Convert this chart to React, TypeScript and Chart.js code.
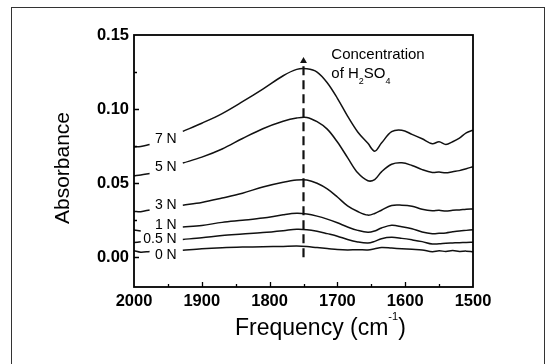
import React, { useEffect, useRef } from 'react';
import { Chart, registerables } from 'chart.js';

Chart.register(...registerables);

const FONT = '"Liberation Sans", Arial, Helvetica, sans-serif';

// Frequency grid (cm^-1); 1955 is the gap where the curve labels sit
const frequencies = [2000, 1990, 1977, 1955, 1928, 1900, 1870, 1840, 1810, 1780, 1760, 1745, 1730, 1715, 1700, 1685, 1670, 1655, 1645, 1635, 1620, 1605, 1590, 1575, 1560, 1550, 1540, 1530, 1520, 1510, 1500];

const abs7N = [0.0745, 0.0748, 0.0762, null, 0.0850, 0.0905, 0.0970, 0.1050, 0.1135, 0.1225, 0.1268, 0.1272, 0.1250, 0.1178, 0.1073, 0.0953, 0.0846, 0.0769, 0.0716, 0.0771, 0.0848, 0.0858, 0.0830, 0.0800, 0.0767, 0.0780, 0.0762, 0.0780, 0.0805, 0.0840, 0.0858];
const abs5N = [0.0550, 0.0556, 0.0566, null, 0.0636, 0.0676, 0.0731, 0.0802, 0.0868, 0.0918, 0.0940, 0.0944, 0.0915, 0.0865, 0.0778, 0.0673, 0.0570, 0.0517, 0.0525, 0.0577, 0.0628, 0.0638, 0.0620, 0.0592, 0.0573, 0.0575, 0.0570, 0.0578, 0.0585, 0.0598, 0.0612];
const abs3N = [0.0310, 0.0308, 0.0320, null, 0.0352, 0.0370, 0.0400, 0.0433, 0.0475, 0.0507, 0.0522, 0.0522, 0.0500, 0.0462, 0.0407, 0.0347, 0.0309, 0.0285, 0.0296, 0.0318, 0.0350, 0.0352, 0.0345, 0.0325, 0.0315, 0.0318, 0.0312, 0.0318, 0.0320, 0.0325, 0.0327];
const abs1N = [0.0185, 0.0178, null, null, 0.0204, 0.0215, 0.0236, 0.0250, 0.0265, 0.0287, 0.0297, 0.0292, 0.0278, 0.0258, 0.0233, 0.0205, 0.0182, 0.0169, 0.0178, 0.0198, 0.0216, 0.0207, 0.0193, 0.0171, 0.0160, 0.0162, 0.0165, 0.0172, 0.0178, 0.0182, 0.0186];
const abs05N = [0.0100, 0.0105, null, null, 0.0121, 0.0132, 0.0147, 0.0157, 0.0167, 0.0180, 0.0190, 0.0187, 0.0176, 0.0160, 0.0143, 0.0120, 0.0104, 0.0097, 0.0108, 0.0126, 0.0135, 0.0128, 0.0118, 0.0106, 0.0090, 0.0092, 0.0095, 0.0097, 0.0099, 0.0100, 0.0102];
const abs0N = [0.0045, 0.0035, 0.0040, null, 0.0048, 0.0058, 0.0065, 0.0069, 0.0071, 0.0074, 0.0076, 0.0073, 0.0066, 0.0060, 0.0053, 0.0050, 0.0052, 0.0050, 0.0058, 0.0067, 0.0063, 0.0058, 0.0054, 0.0050, 0.0038, 0.0044, 0.0040, 0.0046, 0.0040, 0.0042, 0.0038];

const seriesNames = ['7 N', '5 N', '3 N', '1 N', '0.5 N', '0 N'];
const seriesValues = [abs7N, abs5N, abs3N, abs1N, abs05N, abs0N];
// where each curve label sits (absorbance units), right-aligned at labelFreq
const labelValues = [0.0800, 0.0606, 0.0354, 0.0214, 0.0126, 0.0012];
const labelFreq = 1937;

// dashed arrow (peak position)
const arrowFreq = 1750;
const arrowFrom = 0.0;
const arrowTo = 0.1325;

const xMin = 1500;
const xMax = 2000;
const yMin = -0.02;
const yMax = 0.15;

const isMultiple = (v: number, step: number) => Math.abs(v / step - Math.round(v / step)) < 1e-6;

const decorPlugin = {
  id: 'decor',
  afterDatasetsDraw(chart: any) {
    const { ctx, chartArea: a, scales } = chart;
    const x = scales.x;
    const y = scales.y;
    ctx.save();
    // plot box
    ctx.strokeStyle = '#000';
    ctx.lineWidth = 1.8;
    ctx.strokeRect(a.left, a.top, a.right - a.left, a.bottom - a.top);
    // inward ticks
    ctx.lineWidth = 1.3;
    ctx.beginPath();
    y.ticks.forEach((t: any) => {
      if (t.value <= y.min + 1e-9 || t.value >= y.max - 1e-9) return;
      const py = Math.round(y.getPixelForValue(t.value)) + 0.5;
      const len = t.label ? 5 : 3;
      ctx.moveTo(a.left, py);
      ctx.lineTo(a.left + len, py);
    });
    x.ticks.forEach((t: any) => {
      if (t.value <= x.min + 1e-9 || t.value >= x.max - 1e-9) return;
      const px = Math.round(x.getPixelForValue(t.value)) + 0.5;
      const len = t.label ? 5 : 3;
      ctx.moveTo(px, a.bottom);
      ctx.lineTo(px, a.bottom - len);
    });
    ctx.stroke();

    ctx.fillStyle = '#000';
    // curve labels
    ctx.font = `14px ${FONT}`;
    ctx.textAlign = 'right';
    ctx.textBaseline = 'middle';
    seriesNames.forEach((name, i) => {
      ctx.fillText(name, x.getPixelForValue(labelFreq), y.getPixelForValue(labelValues[i]));
    });

    // annotation text
    const ax = x.getPixelForValue(1709);
    const ay = y.getPixelForValue(0.134);
    ctx.textAlign = 'left';
    ctx.textBaseline = 'alphabetic';
    ctx.font = `15px ${FONT}`;
    ctx.fillText('Concentration', ax, ay);
    let cx = ax;
    const line2 = ay + 19;
    const parts: [string, boolean][] = [['of H', false], ['2', true], ['SO', false], ['4', true]];
    parts.forEach(([txt, sub]) => {
      ctx.font = sub ? `9px ${FONT}` : `15px ${FONT}`;
      ctx.fillText(txt, cx, sub ? line2 + 6 : line2);
      cx += ctx.measureText(txt).width;
    });

    // axis titles
    ctx.save();
    ctx.font = `21px ${FONT}`;
    ctx.translate(63, 168);
    ctx.rotate(-Math.PI / 2);
    ctx.textAlign = 'center';
    ctx.textBaseline = 'middle';
    ctx.fillText('Absorbance', 0, 0);
    ctx.restore();

    ctx.textAlign = 'left';
    ctx.textBaseline = 'alphabetic';
    let tx = 235;
    const tb = 335;
    ctx.font = `23px ${FONT}`;
    ctx.fillText('Frequency (cm', tx, tb);
    tx += ctx.measureText('Frequency (cm').width;
    ctx.font = `11px ${FONT}`;
    ctx.fillText('-1', tx, tb - 15);
    tx += ctx.measureText('-1').width;
    ctx.font = `23px ${FONT}`;
    ctx.fillText(')', tx, tb);
    ctx.restore();
  },
};

export default function App() {
  const canvasRef = useRef<HTMLCanvasElement | null>(null);

  useEffect(() => {
    const canvas = canvasRef.current;
    if (!canvas) return;
    const datasets: any[] = seriesValues.map((vals, i) => ({
      label: seriesNames[i],
      data: frequencies.map((f, j) => ({ x: f, y: vals[j] })),
      borderColor: '#111',
      borderWidth: 1.5,
      pointRadius: 0,
      tension: 0.35,
      spanGaps: false,
      fill: false,
    }));
    datasets.push({
      label: 'arrow',
      data: [
        { x: arrowFreq, y: arrowFrom },
        { x: arrowFreq, y: arrowTo },
      ],
      borderColor: '#111',
      backgroundColor: '#111',
      borderWidth: 2.2,
      borderDash: [9, 5],
      pointRadius: [0, 4],
      pointStyle: 'triangle',
      pointBorderWidth: 0,
      tension: 0,
      fill: false,
    });

    const chart = new Chart(canvas, {
      type: 'line',
      data: { datasets },
      options: {
        animation: false,
        responsive: false,
        devicePixelRatio: 1,
        layout: { padding: { left: 0, top: 35, right: 75, bottom: 0 } },
        plugins: {
          legend: { display: false },
          tooltip: { enabled: false },
        },
        scales: {
          x: {
            type: 'linear',
            reverse: true,
            min: xMin,
            max: xMax,
            grid: { display: false, drawTicks: false },
            border: { display: false },
            ticks: {
              stepSize: 50,
              autoSkip: false,
              maxRotation: 0,
              padding: 5,
              color: '#000',
              font: { family: FONT, size: 16.5, weight: 'bold' },
              callback: (v: any) => (isMultiple(Number(v), 100) ? String(v) : ''),
            },
            afterFit: (s: any) => {
              s.height = 77;
            },
          },
          y: {
            type: 'linear',
            min: yMin,
            max: yMax,
            grid: { display: false, drawTicks: false },
            border: { display: false },
            ticks: {
              stepSize: 0.025,
              autoSkip: false,
              padding: 5,
              color: '#000',
              font: { family: FONT, size: 16.5, weight: 'bold' },
              callback: (v: any) => (isMultiple(Number(v), 0.05) ? Number(v).toFixed(2) : ''),
            },
            afterFit: (s: any) => {
              s.width = 134;
            },
          },
        },
      },
      plugins: [decorPlugin],
    });
    return () => chart.destroy();
  }, []);

  return (
    <div style={{ position: 'absolute', left: 0, top: 0, width: 548, height: 364, background: '#fff', overflow: 'hidden' }}>
      <canvas ref={canvasRef} width={548} height={364} style={{ display: 'block', width: 548, height: 364 }} />
      <div
        style={{
          position: 'absolute',
          left: 11,
          top: 7,
          width: 532,
          height: 400,
          borderLeft: '1.5px solid #333',
          borderTop: '1.5px solid #333',
          borderRight: '1.5px solid #333',
          pointerEvents: 'none',
        }}
      />
    </div>
  );
}
